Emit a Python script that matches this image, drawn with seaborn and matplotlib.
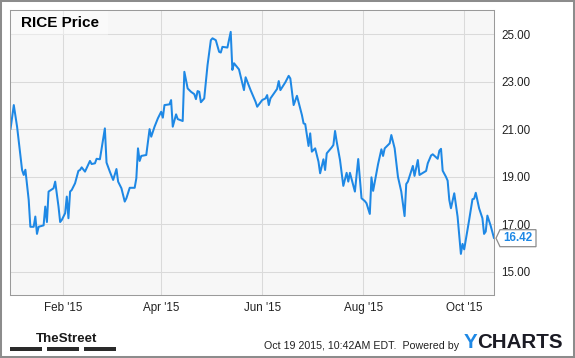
import matplotlib
matplotlib.use("Agg")
import matplotlib.pyplot as plt
import matplotlib.dates as mdates
from matplotlib.patches import Rectangle, Polygon
from matplotlib.transforms import IdentityTransform
import pandas as pd
import seaborn as sns

# ---------------- data ----------------
dates = [
    "2014-12-31", "2015-01-02", "2015-01-04", "2015-01-07", "2015-01-08", "2015-01-09",
    "2015-01-11", "2015-01-12", "2015-01-14", "2015-01-15", "2015-01-16", "2015-01-17",
    "2015-01-20", "2015-01-21", "2015-01-22", "2015-01-23", "2015-01-26", "2015-01-27",
    "2015-01-29", "2015-01-30", "2015-01-31", "2015-02-02", "2015-02-03", "2015-02-04",
    "2015-02-05", "2015-02-06", "2015-02-08", "2015-02-10", "2015-02-11", "2015-02-12",
    "2015-02-14", "2015-02-17", "2015-02-18", "2015-02-20", "2015-02-21", "2015-02-23",
    "2015-02-26", "2015-02-27", "2015-03-01", "2015-03-03", "2015-03-05", "2015-03-06",
    "2015-03-08", "2015-03-10", "2015-03-11", "2015-03-13", "2015-03-16", "2015-03-17",
    "2015-03-18", "2015-03-19", "2015-03-20", "2015-03-23", "2015-03-25", "2015-03-26",
    "2015-03-28", "2015-03-30", "2015-04-01", "2015-04-02", "2015-04-03", "2015-04-06",
    "2015-04-07", "2015-04-08", "2015-04-10", "2015-04-11", "2015-04-14", "2015-04-15",
    "2015-04-17", "2015-04-19", "2015-04-21", "2015-04-22", "2015-04-23", "2015-04-24",
    "2015-04-25", "2015-04-27", "2015-04-29", "2015-05-01", "2015-05-02", "2015-05-04",
    "2015-05-06", "2015-05-07", "2015-05-08", "2015-05-11", "2015-05-13", "2015-05-14",
    "2015-05-15", "2015-05-18", "2015-05-21", "2015-05-22", "2015-05-25", "2015-05-28",
    "2015-05-29", "2015-06-01", "2015-06-03", "2015-06-04", "2015-06-05", "2015-06-06",
    "2015-06-10", "2015-06-11", "2015-06-12", "2015-06-15", "2015-06-17", "2015-06-18",
    "2015-06-20", "2015-06-22", "2015-06-25", "2015-06-26", "2015-06-27", "2015-06-28",
    "2015-06-29", "2015-06-30", "2015-07-01", "2015-07-03", "2015-07-05", "2015-07-06",
    "2015-07-08", "2015-07-09", "2015-07-10", "2015-07-13", "2015-07-14", "2015-07-15",
    "2015-07-16", "2015-07-18", "2015-07-20", "2015-07-22", "2015-07-23", "2015-07-24",
    "2015-07-27", "2015-07-29", "2015-07-31", "2015-08-02", "2015-08-03", "2015-08-05",
    "2015-08-06", "2015-08-07", "2015-08-10", "2015-08-12", "2015-08-13", "2015-08-14",
    "2015-08-17", "2015-08-18", "2015-08-20", "2015-08-22", "2015-08-24", "2015-08-26",
    "2015-08-27", "2015-08-28", "2015-08-31", "2015-09-01", "2015-09-03", "2015-09-04",
    "2015-09-08", "2015-09-09", "2015-09-11", "2015-09-12", "2015-09-15", "2015-09-16",
    "2015-09-17", "2015-09-18", "2015-09-20", "2015-09-21", "2015-09-22", "2015-09-23",
    "2015-09-25", "2015-09-27", "2015-09-29", "2015-09-30", "2015-10-01", "2015-10-04",
    "2015-10-06", "2015-10-07", "2015-10-08", "2015-10-10", "2015-10-12", "2015-10-13",
    "2015-10-14", "2015-10-15", "2015-10-17", "2015-10-19",
]
prices = [
    21.00, 22.02, 21.10, 19.29, 19.08, 19.30,
    18.03, 16.90, 16.90, 17.33, 16.60, 16.90,
    16.96, 17.75, 17.10, 18.38, 18.52, 18.80,
    17.75, 17.10, 17.19, 17.47, 18.17, 17.26,
    18.38, 18.45, 18.73, 19.25, 19.29, 19.40,
    19.22, 19.67, 19.54, 19.57, 19.76, 19.74,
    21.04, 19.60, 19.22, 18.87, 19.33, 18.80,
    18.52, 17.96, 18.10, 18.54, 18.54, 18.94,
    20.20, 19.67, 19.88, 19.92, 21.01, 20.69,
    21.11, 21.46, 21.74, 21.49, 22.02, 22.05,
    22.23, 21.11, 21.63, 21.43, 21.35, 23.42,
    22.72, 22.58, 22.48, 22.27, 22.61, 22.58,
    22.14, 22.30, 23.70, 24.75, 24.83, 24.75,
    24.26, 24.23, 24.47, 24.44, 25.10, 23.50,
    23.78, 23.52, 22.65, 23.19, 22.65, 22.16,
    21.95, 22.23, 22.30, 22.44, 22.02, 22.30,
    22.70, 23.03, 22.65, 22.98, 23.25, 23.14,
    22.02, 22.41, 21.60, 21.25, 21.22, 20.76,
    20.30, 20.83, 20.06, 20.20, 19.64, 19.15,
    19.74, 19.29, 19.99, 20.24, 20.34, 20.93,
    20.48, 19.71, 18.62, 19.17, 18.80, 19.17,
    18.38, 19.75, 18.10, 17.98, 17.89, 17.44,
    18.98, 18.41, 19.54, 20.16, 19.88, 20.20,
    20.41, 20.76, 20.20, 19.00, 18.38, 17.35,
    18.70, 18.80, 19.46, 19.04, 19.71, 19.08,
    19.25, 19.57, 19.90, 19.95, 19.76, 20.10,
    20.18, 19.26, 19.00, 18.84, 18.03, 17.68,
    18.31, 17.33, 15.76, 16.18, 15.95, 17.19,
    18.06, 18.08, 18.33, 17.68, 17.26, 16.60,
    16.70, 17.37, 16.94, 16.42,
]
y_ticks = [15, 17, 19, 21, 23, 25]
x_tick_dates = ["2015-02-01", "2015-04-01", "2015-06-01", "2015-08-01", "2015-10-01"]
x_tick_labels = ["Feb '15", "Apr '15", "Jun '15", "Aug '15", "Oct '15"]
title_text = "RICE Price"
last_label = "16.42"
footer_left = "TheStreet"
footer_stamp = "Oct 19 2015, 10:42AM EDT.  Powered by"
logo_y = "Y"
logo_rest = "CHARTS"

# ---------------- style ----------------
BLUE = "#1e88e5"
GRID = "#dadada"
FRAME = "#9a9a9a"
TEXT = "#222222"

sns.set_theme(style="whitegrid", rc={
    "axes.facecolor": "#f7f7f7",
    "figure.facecolor": "white",
    "grid.color": GRID,
    "grid.linewidth": 0.75,
    "axes.edgecolor": FRAME,
    "axes.linewidth": 0.75,
})
plt.rcParams["font.family"] = ["Liberation Sans", "DejaVu Sans"]

W, H = 575, 358
fig = plt.figure(figsize=(W / 100, H / 100), dpi=100)
ax = fig.add_axes([10 / W, (H - 295) / H, 484 / W, 285 / H])

df = pd.DataFrame({"date": pd.to_datetime(dates), "price": prices})
sns.lineplot(data=df, x="date", y="price", ax=ax, color=BLUE, linewidth=1.45)

ax.set_xlim(mdates.date2num(pd.Timestamp("2014-12-30 17:00")),
            mdates.date2num(pd.Timestamp("2015-10-19 00:00")))
ax.set_ylim(14.03, 26.02)

ax.set_xlabel("")
ax.set_ylabel("")
ax.yaxis.tick_right()
ax.set_yticks(y_ticks)
ax.set_yticklabels([f"{v:.2f}" for v in y_ticks])
ax.set_xticks([mdates.date2num(pd.Timestamp(d)) for d in x_tick_dates])
ax.set_xticklabels(x_tick_labels)
ax.tick_params(axis="both", length=0, labelsize=8.4, colors=TEXT)
ax.tick_params(axis="y", pad=5)
ax.tick_params(axis="x", pad=5)
ax.grid(True, color=GRID, linewidth=0.75)
ax.set_axisbelow(True)
for s in ax.spines.values():
    s.set_visible(True)
    s.set_color(FRAME)
    s.set_linewidth(0.75)

# title with translucent box
ax.add_patch(Rectangle((0, 1 - 25 / 285), 98 / 484, 25 / 285, transform=ax.transAxes,
                       facecolor="white", alpha=0.4, edgecolor="none", zorder=1.5))
ax.text(11 / 484, 1 - 13 / 285, title_text, transform=ax.transAxes, ha="left", va="center",
        fontsize=11, fontweight="bold", color="black", zorder=3)

# last value tag
last_x = mdates.date2num(pd.Timestamp(dates[-1]))
px, py = ax.transData.transform((last_x, prices[-1]))
tag = Polygon([(px + 2, py), (px + 6, py + 8.5), (px + 42, py + 8.5),
               (px + 42, py - 8.5), (px + 6, py - 8.5)], closed=True,
              transform=IdentityTransform(), facecolor="white", edgecolor="#8c8c8c",
              linewidth=0.9, zorder=5)
fig.add_artist(tag)
fx, fy = fig.transFigure.inverted().transform((px + 24, py))
fig.text(fx, fy, last_label, ha="center", va="center", fontsize=8.4,
         fontweight="bold", color=BLUE, zorder=6)

# footer
fig.text(36 / W, (H - 341.7) / H, footer_left, ha="left", va="baseline",
         fontsize=9.6, fontweight="bold", color="#1a1a1a")
for x0, x1 in [(10.3, 42.2), (46.9, 78.8), (83.6, 115.9)]:
    fig.patches.append(Rectangle((x0 / W, 7.3 / H), (x1 - x0) / W, 4 / H,
                                 transform=fig.transFigure, facecolor="#2a2a2a",
                                 edgecolor="none"))
fig.text(459.5 / W, 9.3 / H, footer_stamp, ha="right", va="baseline",
         fontsize=7.7, color=TEXT)
ty = fig.text(464 / W, 9.7 / H, logo_y, ha="left", va="baseline",
              fontsize=14.8, fontweight="bold", color="#1e88e5")
fig.canvas.draw()
bb = ty.get_window_extent()
fig.text(bb.x1 / W, 9.7 / H, logo_rest, ha="left", va="baseline",
         fontsize=14.8, fontweight="bold", color="#1b1b24")

# outer frame
fig.patches.append(Rectangle((0, 0), 1, 1, transform=fig.transFigure, fill=False,
                             edgecolor="#8c8c8c", linewidth=2.9))

fig.savefig("out.png", dpi=100)
